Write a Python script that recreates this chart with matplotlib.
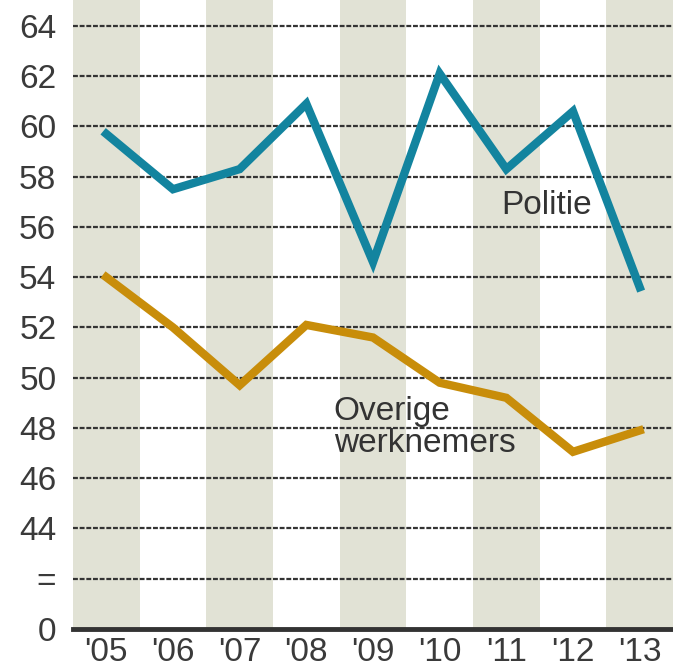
import matplotlib
matplotlib.use("Agg")
import matplotlib.pyplot as plt

years = ["'05", "'06", "'07", "'08", "'09", "'10", "'11", "'12", "'13"]
politie = [59.7, 57.5, 58.3, 60.9, 54.6, 62.1, 58.3, 60.6, 53.6]
overige = [54.0, 52.0, 49.7, 52.1, 51.6, 49.8, 49.2, 47.05, 47.9]
ytick_vals = [40, 42, 44, 46, 48, 50, 52, 54, 56, 58, 60, 62, 64]
ytick_labels = ["0", "="] + [str(v) for v in range(44, 66, 2)]

plt.rcParams['font.family'] = ['Liberation Sans', 'DejaVu Sans']

fig = plt.figure(figsize=(6.73, 6.71), dpi=100)
ax = fig.add_axes([73/673, 1 - 629/671, 1 - 73/673, 629/671])

x = list(range(len(years)))
for i in x:
    if i % 2 == 0:
        ax.axvspan(i - 0.5, i + 0.5, color="#e1e2d5", lw=0, zorder=0)

for v in ytick_vals[1:]:
    ax.axhline(v, color="#333333", lw=1.6, ls=(0, (2.2, 0.8)), zorder=1)

ax.plot(x, politie, color="#13849f", lw=6, solid_joinstyle="miter", zorder=3)
ax.plot(x, overige, color="#c88d0a", lw=6, solid_joinstyle="miter", zorder=3)

tkw = dict(fontsize=24, color="#333333", ha="left", va="baseline", zorder=4)
ax.text(5.93, 56.52, "Politie", **tkw)
ax.text(3.41, 48.33, "Overige", **tkw)
ax.text(3.41, 47.06, "werknemers", **tkw)

ax.set_xlim(-0.5, 8.5)
ax.set_ylim(40, 65.03)
ax.set_xticks(x)
ax.set_xticklabels(years)
ax.set_yticks(ytick_vals)
ax.set_yticklabels(ytick_labels)
ax.tick_params(axis="both", length=0, labelsize=24, colors="#3a3a3a")
ax.tick_params(axis="y", pad=12)
ax.tick_params(axis="x", pad=6)
for s in ["top", "right", "left"]:
    ax.spines[s].set_visible(False)
ax.spines["bottom"].set_color("#333333")
ax.spines["bottom"].set_linewidth(3.5)
ax.set_facecolor("white")

fig.savefig("out.png", dpi=100)
